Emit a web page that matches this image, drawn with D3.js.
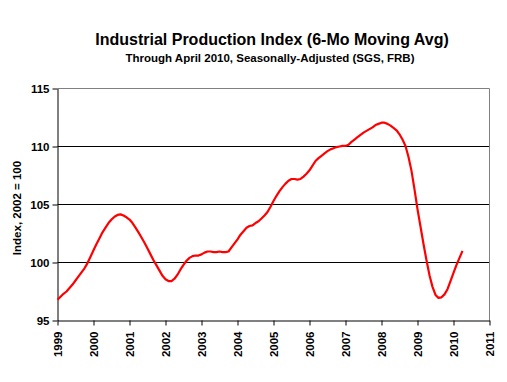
<!DOCTYPE html>
<html><head><meta charset="utf-8">
<script src="https://cdn.jsdelivr.net/npm/d3@7"></script>
<style>body{margin:0;background:#fff}svg{display:block}text{font-family:"Liberation Sans",Arial,sans-serif}</style>
</head><body>
<script>
const startYear = 1999;
const values = [
96.8,97.05,97.3,97.5,97.8,98.1,98.45,98.8,99.15,99.5,99.95,100.5,
101.05,101.6,102.1,102.6,103.0,103.4,103.7,103.95,104.1,104.15,104.05,103.9,
103.7,103.4,103.0,102.6,102.15,101.7,101.2,100.7,100.2,99.75,99.3,98.85,
98.55,98.4,98.4,98.6,98.95,99.4,99.8,100.15,100.4,100.55,100.6,100.6,
100.7,100.85,100.95,100.95,100.9,100.9,100.95,100.9,100.9,100.95,101.3,101.65,
102.0,102.4,102.7,103.0,103.15,103.2,103.4,103.55,103.8,104.05,104.35,104.8,
105.3,105.75,106.15,106.5,106.8,107.05,107.2,107.2,107.15,107.2,107.4,107.65,
107.95,108.35,108.75,109.0,109.2,109.4,109.6,109.75,109.85,109.95,110.0,110.05,
110.05,110.15,110.4,110.6,110.8,111.0,111.2,111.35,111.5,111.65,111.85,111.95,
112.05,112.05,111.95,111.8,111.6,111.4,111.05,110.6,110.05,109.1,107.9,106.3,
104.6,103.1,101.6,100.2,98.9,97.9,97.2,96.95,97.0,97.25,97.7,98.4,
99.1,99.8,100.4,101.0
];
const xTicks = d3.range(1999, 2012);
const yTicks = [95,100,105,110,115];
const title = "Industrial Production Index (6-Mo Moving Avg)";
const subtitle = "Through April 2010, Seasonally-Adjusted (SGS, FRB)";
const yLabel = "Index, 2002 = 100";

const W=507,H=382, L=57.5, R=489.5, T=88.5, B=320.5;
const svg=d3.select("body").append("svg").attr("width",W).attr("height",H);
const x=d3.scaleLinear().domain([1999,2011]).range([L,R]);
const y=d3.scaleLinear().domain([95,115]).range([B,T]);

// grid
svg.append("g").selectAll("line").data([100,105,110]).join("line")
  .attr("x1",L).attr("x2",R).attr("y1",d=>y(d)).attr("y2",d=>y(d))
  .attr("stroke","#000").attr("stroke-width",1);
// plot border top/right gray
svg.append("path").attr("d",`M${L},${T}H${R}V${B}`).attr("fill","none").attr("stroke","#808080");

// axes
const ya=svg.append("g").attr("transform",`translate(${L},0)`)
  .call(d3.axisLeft(y).tickValues(yTicks).tickSize(5).tickSizeOuter(0).tickPadding(3));
const xa=svg.append("g").attr("transform",`translate(0,${B})`)
  .call(d3.axisBottom(x).tickValues(xTicks).tickFormat(d3.format("d")).tickSize(5).tickSizeOuter(0));
[ya,xa].forEach(a=>{a.select(".domain").attr("stroke","#000");a.selectAll(".tick line").attr("stroke","#000");
  a.selectAll("text").attr("font-size",11.5).attr("font-weight","bold").attr("fill","#000").attr("font-family",'"Liberation Sans",Arial,sans-serif');});
xa.selectAll("text").attr("transform","rotate(-90)").attr("text-anchor","end")
  .attr("x",-11).attr("y",0).attr("dy","0.35em");

// line
const line=d3.line().x((d,i)=>x(startYear+i/12)).y(d=>y(d)).curve(d3.curveLinear);
svg.append("path").datum(values).attr("d",line).attr("fill","none")
  .attr("stroke","#ff0000").attr("stroke-width",2.2).attr("stroke-linejoin","round");

// titles
svg.append("text").attr("x",272).attr("y",45).attr("text-anchor","middle")
  .attr("font-size",16).attr("font-weight","bold").text(title);
svg.append("text").attr("x",270).attr("y",62).attr("text-anchor","middle")
  .attr("font-size",11.5).attr("font-weight","bold").text(subtitle);
svg.append("text").attr("transform","translate(21,208) rotate(-90)").attr("text-anchor","middle")
  .attr("font-size",11.5).attr("font-weight","bold").text(yLabel);
</script>
</body></html>
